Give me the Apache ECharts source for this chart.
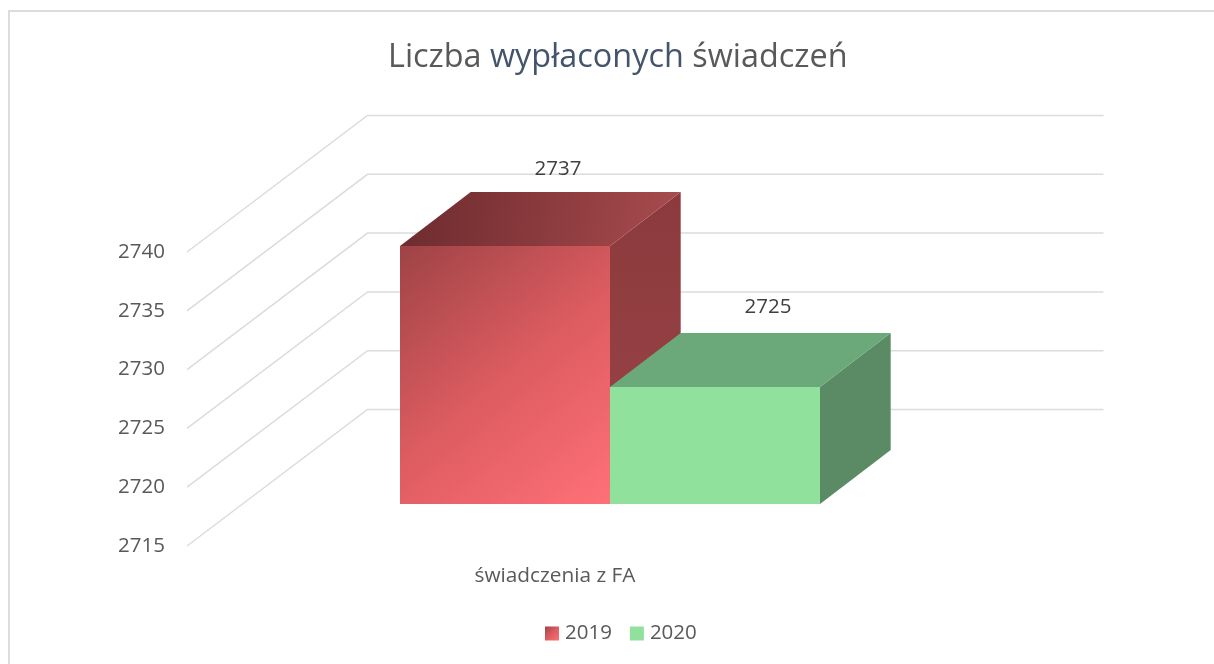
<!DOCTYPE html>
<html>
<head>
<meta charset="utf-8">
<style>html,body{margin:0;padding:0;background:#fff}#chart{width:1214px;height:664px}</style>
<script src="https://cdn.jsdelivr.net/npm/echarts@6/dist/echarts.min.js"></script>
</head>
<body>
<div id="chart"></div>
<script>
var categories = ['świadczenia z FA'];
var seriesNames = ['2019', '2020'];
var values2019 = [2737];
var values2020 = [2725];
var tickValues = [2715, 2720, 2725, 2730, 2735, 2740];
var FONT = '"Open Sans", sans-serif';

// oblique projection of the Excel-style 3D chart
var wallDx = 180.5, wallDy = -136.5;
var barPlaneDx = 55, barPlaneDy = -41.7;
var depthDx = 70.7, depthDy = -53.7;
var barShare = 210 / 736;

function grad(x0, y0, x1, y1, stops) {
  return { type: 'linear', x: x0, y: y0, x2: x1, y2: y1,
    colorStops: stops.map(function (c, i) { return { offset: i / (stops.length - 1), color: c }; }) };
}
var palette = {
  '2019': {
    front: grad(0, 0, 1, 1, ['#9E4346', '#DC5C60', '#FF7077']),
    top: grad(0, 0, 1, 1, ['#6C2B2E', '#8A3A3D', '#A94C4F']),
    side: grad(0, 0, 0, 1, ['#8C3A3D', '#9A4448']),
    label: [53, -76.7]
  },
  '2020': { front: '#90E19C', top: '#6BA97A', side: '#5B8B64', label: [53, -79.7] }
};

function wallRender(params, api) {
  var v = api.value(0);
  var c = params.coordSys;
  var y = api.coord([0, v])[1];
  var backX = c.x + wallDx, backY = y + wallDy;
  return {
    type: 'polyline',
    shape: { points: [[c.x, y], [backX, backY], [c.x + c.width + wallDx, backY]] },
    style: { stroke: '#DCDCDC', lineWidth: 1.5, fill: null },
    silent: true
  };
}

function barRender(name, slot) {
  return function (params, api) {
    var cat = api.value(0), val = api.value(1);
    var p = api.coord([cat, val]);
    var base = api.coord([cat, tickValues[0]]);
    var w = api.size([1, 0])[0] * barShare;
    var x0 = p[0] + barPlaneDx + (slot - 1) * w, x1 = x0 + w;
    var yT = Math.round(p[1] + barPlaneDy), yB = Math.round(base[1] + barPlaneDy);
    var dy = Math.round(depthDy);
    var st = palette[name];
    return {
      type: 'group',
      children: [
        { type: 'polygon', shape: { points: [[x1, yT], [x1 + depthDx, yT + dy], [x1 + depthDx, yB + dy], [x1, yB]] }, style: { fill: st.side } },
        { type: 'polygon', shape: { points: [[x0, yT], [x0 + depthDx, yT + dy], [x1 + depthDx, yT + dy], [x1, yT]] }, style: { fill: st.top } },
        { type: 'rect', shape: { x: x0, y: yT, width: w, height: yB - yT }, style: { fill: st.front } },
        { type: 'text', style: { text: String(val), x: (x0 + x1) / 2 + st.label[0], y: yT + st.label[1], align: 'center', verticalAlign: 'middle', fill: '#404040', font: '20.5px ' + FONT } }
      ]
    };
  };
}

var chart = echarts.init(document.getElementById('chart'), null, { renderer: 'canvas' });
chart.setOption({
  animation: false,
  backgroundColor: '#ffffff',
  graphic: [{ type: 'rect', z: -10, silent: true,
    shape: { x: 9, y: 11, width: 1300, height: 760 },
    style: { fill: '#fff', stroke: '#DCDCDC', lineWidth: 2 } }],
  title: {
    left: 388, top: 42, padding: 0,
    text: '{a|Liczba }{b|wypłaconych}{a| świadczeń}',
    textStyle: { fontWeight: 'normal', rich: {
      a: { fontFamily: FONT, fontSize: 32.4, fontWeight: 'normal', color: '#595959' },
      b: { fontFamily: FONT, fontSize: 32.4, fontWeight: 'normal', color: '#44546A' }
    } }
  },
  legend: {
    data: seriesNames, left: 545, top: 623, padding: 0, itemWidth: 14, itemHeight: 14, itemGap: 18, icon: 'rect',
    textStyle: { fontFamily: FONT, fontSize: 20.5, color: '#595959', padding: [0, 0, 0, 1] }
  },
  grid: { left: 187, top: 252, width: 736, height: 294, containLabel: false },
  xAxis: {
    type: 'category', data: categories,
    axisLine: { show: false }, axisTick: { show: false }, splitLine: { show: false },
    axisLabel: { margin: 20, fontFamily: FONT, fontSize: 20.8, color: '#595959' }
  },
  yAxis: {
    type: 'value', min: 2715, max: 2740, interval: 5,
    axisLine: { show: false }, axisTick: { show: false }, splitLine: { show: false },
    axisLabel: { margin: 22, fontFamily: FONT, fontSize: 20.5, color: '#595959', formatter: function (v) { return String(v); } }
  },
  series: [
    { type: 'custom', name: 'walls', silent: true, clip: false, z: 1,
      encode: { y: 0 }, data: tickValues.map(function (t) { return [t]; }), renderItem: wallRender },
    { type: 'custom', name: seriesNames[0], clip: false, z: 2,
      itemStyle: { color: palette['2019'].front },
      encode: { x: 0, y: 1 }, data: values2019.map(function (v, i) { return [i, v]; }),
      renderItem: barRender('2019', 0) },
    { type: 'custom', name: seriesNames[1], clip: false, z: 3,
      itemStyle: { color: palette['2020'].front },
      encode: { x: 0, y: 1 }, data: values2020.map(function (v, i) { return [i, v]; }),
      renderItem: barRender('2020', 1) }
  ]
});
</script>
</body>
</html>
